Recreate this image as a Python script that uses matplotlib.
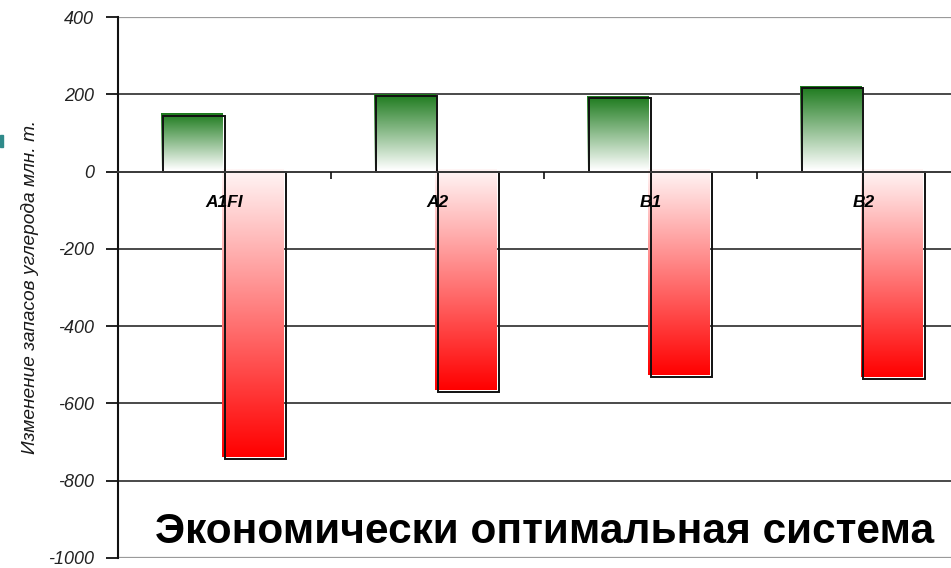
"""Экономически оптимальная система: изменение запасов углерода по сценариям."""
import numpy as np
import matplotlib
matplotlib.use("Agg")
import matplotlib.pyplot as plt
from matplotlib.colors import LinearSegmentedColormap
from matplotlib.patches import Rectangle

# values (млн. т.)
categories = ["A1FI", "A2", "B1", "B2"]
gain = [145, 196, 191, 217]
loss = [-743, -571, -532, -536]
yticks = [-1000, -800, -600, -400, -200, 0, 200, 400]

INK = "#111111"
GRID = "#3c3c3c"
LIGHT = "#9a9a9a"
GREEN = "#1c7a1c"
RED = "#ff0000"

plt.rcParams.update({
    "font.family": ["Liberation Sans", "DejaVu Sans"],
    "axes.unicode_minus": False,
})

W = 0.29           # bar width, in category units
DX, DY = -0.01, 5  # fill sits a touch up-left of its outline, as in Excel

cm_green = LinearSegmentedColormap.from_list("g", ["#ffffff", GREEN])
cm_red = LinearSegmentedColormap.from_list("r", [RED, "#fff6f6"])
grad = np.linspace(0, 1, 256).reshape(-1, 1)

fig = plt.figure(figsize=(9.51, 5.68), dpi=100)
ax = fig.add_axes([118 / 951, 10 / 568, 852 / 951, 541 / 568])

x = np.arange(len(categories))
for xi, g, l in zip(x, gain, loss):
    ax.imshow(grad, origin="lower", cmap=cm_green, aspect="auto", zorder=2,
              extent=(xi - W + DX, xi + DX, 0 + DY, g + DY))
    ax.imshow(grad, origin="lower", cmap=cm_red, aspect="auto", zorder=2,
              extent=(xi + DX, xi + W + DX, l + DY, 0 + DY))
    ax.add_patch(Rectangle((xi - W, 0), W, g, fill=False, ec=INK, lw=1.4, zorder=3))
    ax.add_patch(Rectangle((xi, l), W, -l, fill=False, ec=INK, lw=1.4, zorder=3))

ax.set_xlim(-0.5, len(categories) - 0.5)
ax.set_ylim(yticks[0], yticks[-1])

# horizontal rules; the outer two are quieter
for t in yticks:
    ends = t in (yticks[0], yticks[-1])
    ax.axhline(t, color=LIGHT if ends else GRID, lw=1.6 if ends else 1.3, zorder=1)

for s in ("top", "right"):
    ax.spines[s].set_visible(False)
ax.spines["left"].set_color(INK)
ax.spines["left"].set_linewidth(1.5)
ax.spines["bottom"].set_position(("data", 0))
ax.spines["bottom"].set_color(GRID)
ax.spines["bottom"].set_linewidth(1.3)
ax.spines["bottom"].set_zorder(4)

ax.set_yticks(yticks)
ax.tick_params(axis="y", direction="out", length=9, width=1.3, color=INK,
               pad=8, labelsize=13, labelcolor="#222222")
for lab in ax.get_yticklabels():
    lab.set_fontstyle("italic")

ax.set_xticks(x)
ax.set_xticklabels(categories, fontsize=12.5, fontweight="bold", fontstyle="italic")
ax.set_xticks(x[:-1] + 0.5, minor=True)
ax.tick_params(axis="x", which="major", length=0, pad=17)
ax.tick_params(axis="x", which="minor", direction="out", length=5, width=1.2, color=INK)
ax.xaxis.set_zorder(5)  # labels sit on top of the red bars

fig.text(30 / 951, 1 - 287 / 568, "Изменение запасов углерода млн. т.", rotation=90,
         ha="center", va="center", fontsize=13.8, fontstyle="italic", color="#1a1a1a")
fig.text(545 / 951, 1 - 532 / 568, "Экономически оптимальная система",
         ha="center", va="center", fontsize=30.5, fontweight="bold", color="black")

# sliver of a slide element cut off at the left edge
fig.add_artist(Rectangle((0, 1 - 147 / 568), 3 / 951, 12 / 568,
                         transform=fig.transFigure, color="#2f8a8a"))

fig.savefig("out.png", dpi=100)
